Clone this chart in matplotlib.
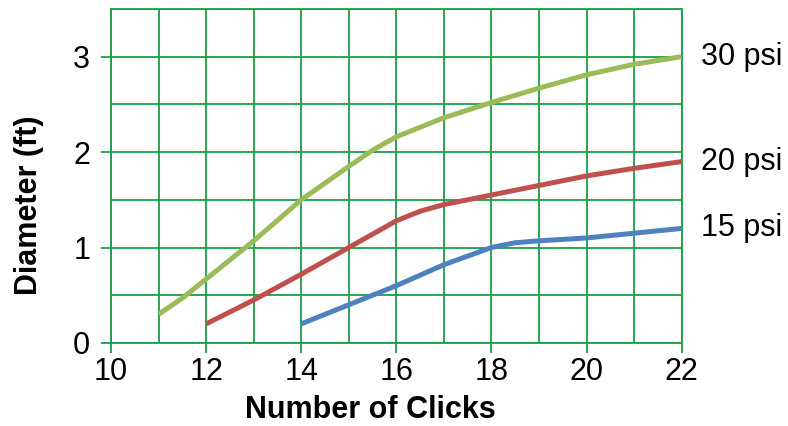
import matplotlib.pyplot as plt
from matplotlib.ticker import MultipleLocator

plt.rcParams['font.family'] = ['Liberation Sans', 'DejaVu Sans']

# Data
x_30 = [11, 11.5, 12, 13, 14, 15, 15.5, 16, 17, 18, 19, 20, 21, 22]
y_30 = [0.3, 0.47, 0.67, 1.07, 1.5, 1.85, 2.02, 2.16, 2.36, 2.52, 2.67, 2.81, 2.92, 3.0]

x_20 = [12, 13, 14, 15, 16, 16.5, 17, 18, 19, 20, 21, 22]
y_20 = [0.2, 0.45, 0.72, 1.0, 1.28, 1.38, 1.45, 1.55, 1.65, 1.75, 1.83, 1.9]

x_15 = [14, 15, 16, 17, 18, 18.5, 19, 20, 21, 22]
y_15 = [0.2, 0.4, 0.6, 0.82, 1.0, 1.05, 1.07, 1.1, 1.15, 1.2]

series_labels = ['30 psi', '20 psi', '15 psi']
series_colors = ['#9BBB59', '#C0504D', '#4F81BD']

grid_color = '#1a9e45'

fig = plt.figure(figsize=(7.88, 4.26), dpi=100)
ax = fig.add_axes([0.141, 0.195, 0.724, 0.784])

series = [(x_30, y_30), (x_20, y_20), (x_15, y_15)]
for (xs, ys), lab, col in zip(series, series_labels, series_colors):
    ax.plot(xs, ys, color=col, lw=3.6, solid_capstyle='butt', zorder=3)
    ax.text(22.4, ys[-1], lab, fontsize=22, va='center', ha='left', clip_on=False)

ax.set_xlim(10, 22)
ax.set_ylim(0, 3.5)
ax.xaxis.set_major_locator(MultipleLocator(2))
ax.xaxis.set_minor_locator(MultipleLocator(1))
ax.yaxis.set_major_locator(MultipleLocator(1))
ax.yaxis.set_minor_locator(MultipleLocator(0.5))
ax.grid(which='both', color=grid_color, lw=1.3)
ax.set_axisbelow(True)
for s in ax.spines.values():
    s.set_color(grid_color)
    s.set_linewidth(1.3)
ax.tick_params(which='major', color=grid_color, width=1.3, length=7, labelsize=22)
ax.tick_params(which='minor', length=0)
ax.tick_params(axis='x', pad=3)
ax.tick_params(axis='y', pad=8)

# axis titles sit off-centre in the reference
fig.text(370 / 788, 1 - 410 / 426, 'Number of Clicks', fontsize=22,
         fontweight='bold', ha='center', va='center')
fig.text(29 / 788, 1 - 205 / 426, 'Diameter (ft)', fontsize=22,
         fontweight='bold', ha='center', va='center', rotation=90)

fig.savefig('out.png', dpi=100)
